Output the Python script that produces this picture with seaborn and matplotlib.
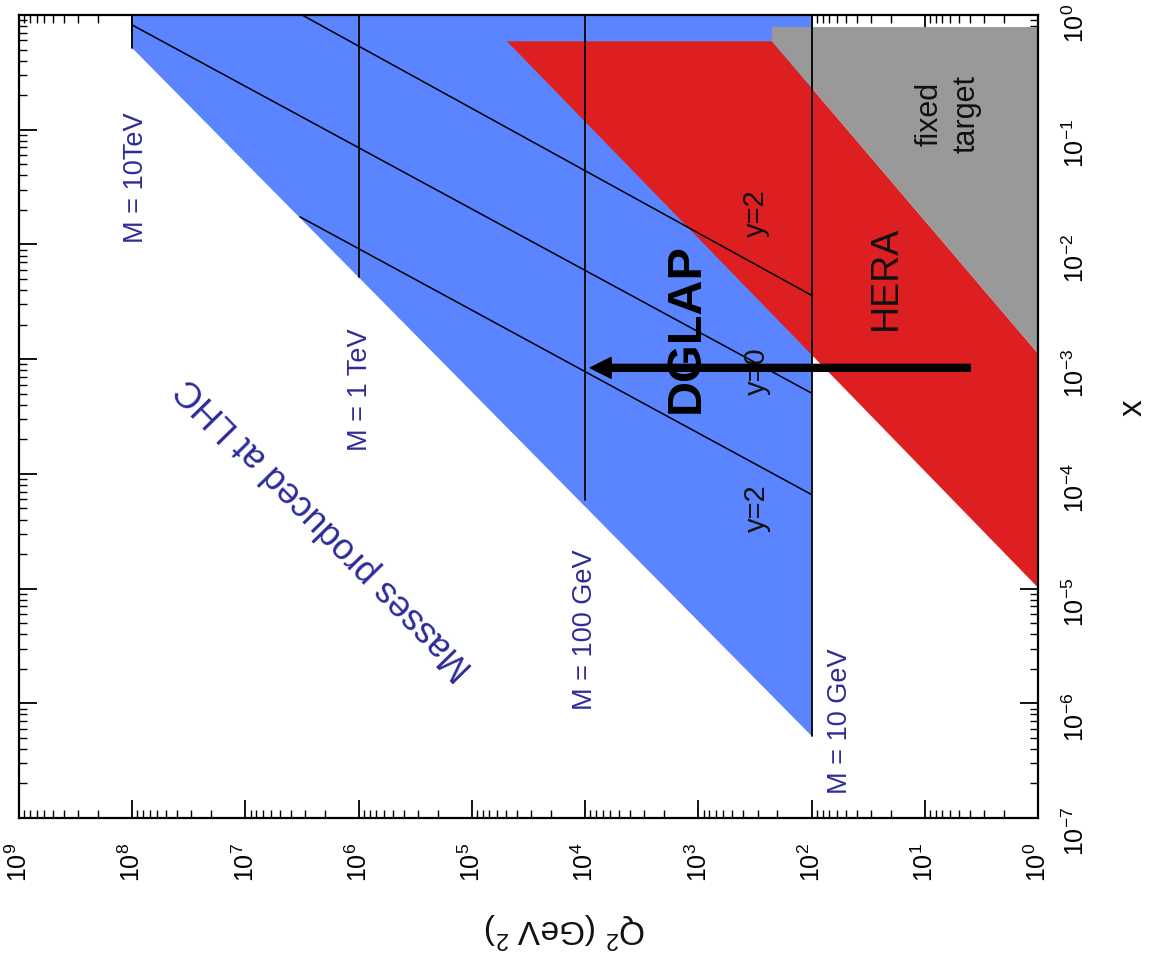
import numpy as np
import pandas as pd
import matplotlib
matplotlib.use("Agg")
import matplotlib.pyplot as plt
from matplotlib import font_manager as fm
from matplotlib.ticker import FixedLocator, FuncFormatter, NullFormatter
import seaborn as sns

# ---------------- data ----------------
# LHC region (Q^2 in GeV^2, x)
lhc_Q2 = [1e8, 1e8, 1e2, 1e2]
lhc_x = [1.0, 0.515, 5.2e-7, 1.0]
# HERA region
hera_Q2 = [4.9e4, 2.24e2, 1.0, 1.0]
hera_x = [0.59, 0.59, 1.12e-3, 1.02e-5]
# fixed target region
fixed_Q2 = [2.24e2, 1.0, 1.0, 2.24e2]
fixed_x = [0.785, 0.785, 1.12e-3, 0.59]
# constant mass lines
mass_labels = ["M = 10TeV", "M = 1 TeV", "M = 100 GeV", "M = 10 GeV"]
mass_Q2 = [1e8, 1e6, 1e4, 1e2]
mass_xmin = [0.515, 5.2e-3, 5.9e-5, 5.2e-7]
mass_xmax = [1.0, 1.0, 1.0, 1.0]
# rapidity lines
rap_labels = ["y=2", "y=0", "y=2"]
rap_Q2_start = [3.16e6, 1e8, 3.3e6]
rap_x_start = [1.0, 0.818, 0.0174]
rap_Q2_end = [1e2, 1e2, 1e2]
rap_x_end = [3.6e-3, 5.06e-4, 6.6e-5]
# DGLAP arrow (tail -> head)
dglap_Q2 = [3.97, 9.0e3]
dglap_x = [8.4e-4, 8.4e-4]
# axis tick decades
q2_decades = [0, 1, 2, 3, 4, 5, 6, 7, 8, 9]
x_decades = [-7, -6, -5, -4, -3, -2, -1, 0]

# ---------------- style ----------------
sns.set_theme(style="ticks")
plt.rcParams["font.family"] = ["Liberation Sans", "DejaVu Sans"]
plt.rcParams["mathtext.fontset"] = "custom"
plt.rcParams["mathtext.rm"] = "Liberation Sans"
plt.rcParams["mathtext.it"] = "Liberation Sans:italic"
plt.rcParams["mathtext.bf"] = "Liberation Sans:bold"

names = {f.name for f in fm.fontManager.ttflist}
if "Liberation Sans Narrow" in names:
    dglap_font, dglap_size = "Liberation Sans Narrow", 40
else:
    dglap_font, dglap_size = "Liberation Sans", 35

BLUE = "#5b84ff"
RED = "#de1f22"
GRAY = "#999999"
NAVY = "#2c2c9a"

fig = plt.figure(figsize=(11.5, 9.69), dpi=100)
ax = fig.add_axes([19 / 1150, 1 - 818 / 969, (1038 - 19) / 1150, (818 - 15) / 969])
ax.set_xscale("log")
ax.set_yscale("log")
ax.set_xlim(1e9, 1e0)
ax.set_ylim(1e-7, 1e0)
ax.set_facecolor("white")

ax.fill(lhc_Q2, lhc_x, color=BLUE, lw=0, zorder=1)
ax.fill(hera_Q2, hera_x, color=RED, lw=0, zorder=2)
ax.fill(fixed_Q2, fixed_x, color=GRAY, lw=0, zorder=3)

for q, lo, hi in zip(mass_Q2, mass_xmin, mass_xmax):
    sns.lineplot(x=[q, q], y=[lo, hi], estimator=None, sort=False,
                 color="black", lw=1.3, ax=ax, legend=False, zorder=4)
for q0, x0, q1, x1 in zip(rap_Q2_start, rap_x_start, rap_Q2_end, rap_x_end):
    sns.lineplot(x=[q0, q1], y=[x0, x1], estimator=None, sort=False,
                 color="black", lw=1.1, ax=ax, legend=False, zorder=4)

# ---------------- texts ----------------
mass_pos = [(9.25e7, 0.0379), (9.7e5, 5.38e-4), (1.0e4, 4.36e-6), (55.8, 7.0e-7)]
for lab, (q, xv) in zip(mass_labels, mass_pos):
    ax.text(q, xv, lab, rotation=90, rotation_mode="anchor", ha="center",
            va="center", color=NAVY, fontsize=19.5, zorder=6)

rap_pos = [(309, 0.0188), (302, 7.87e-4), (302, 5.03e-5)]
for lab, (q, xv) in zip(rap_labels, rap_pos):
    ax.text(q, xv, lab, rotation=90, rotation_mode="anchor", ha="center",
            va="center", color="#111111", fontsize=21, zorder=6)

ax.text(21.9, 5.09e-3, "HERA", rotation=90, rotation_mode="anchor",
        ha="center", va="center", color="#111111", fontsize=27, zorder=6)
ax.text(6.2, 0.137, "fixed\ntarget", rotation=90, rotation_mode="anchor",
        ha="center", va="center", multialignment="center", linespacing=1.3,
        color="#111111", fontsize=22, zorder=6)
ax.text(1.98e6, 3.37e-5, "Masses produced at LHC", rotation=134.4,
        rotation_mode="anchor", ha="center", va="center", color=NAVY,
        fontsize=26, zorder=6)

ax.annotate("", xy=(dglap_Q2[1], dglap_x[1]), xytext=(dglap_Q2[0], dglap_x[0]),
            arrowprops=dict(facecolor="black", edgecolor="black", width=5,
                            headwidth=15, headlength=15, shrink=0),
            zorder=7)
ax.text(1283, 1.87e-3, "DGLAP", rotation=90, rotation_mode="anchor",
        ha="center", va="center", color="black", fontsize=dglap_size,
        fontweight="bold", family=[dglap_font, "DejaVu Sans"], zorder=8)

# ---------------- axes ----------------
fmt = FuncFormatter(lambda v, p: r"$10^{%d}$" % int(round(np.log10(v))))
subs = np.arange(2, 10)
q2_major = [10.0 ** d for d in q2_decades]
q2_minor = [s * 10.0 ** d for d in q2_decades[:-1] for s in subs]
x_major = [10.0 ** d for d in x_decades]
x_minor = [s * 10.0 ** d for d in x_decades[:-1] for s in subs]
ax.xaxis.set_major_locator(FixedLocator(q2_major))
ax.xaxis.set_minor_locator(FixedLocator(q2_minor))
ax.yaxis.set_major_locator(FixedLocator(x_major))
ax.yaxis.set_minor_locator(FixedLocator(x_minor))
for axis in (ax.xaxis, ax.yaxis):
    axis.set_major_formatter(fmt)
    axis.set_minor_formatter(NullFormatter())
    axis.get_offset_text().set_visible(False)

ax.tick_params(which="both", direction="in", top=True, bottom=True, left=True,
               right=True, labelbottom=True, labelleft=False, labelright=True,
               labeltop=False, colors="black")
ax.tick_params(which="major", length=13, width=1.3, labelsize=18, pad=18)
ax.tick_params(which="minor", length=6, width=1.0)
ax.tick_params(axis="x", labelrotation=90)
ax.tick_params(axis="y", labelrotation=90)
ax.set_xlabel("")
ax.set_ylabel("")
for s in ax.spines.values():
    s.set_visible(True)
    s.set_linewidth(1.6)
    s.set_color("black")
    s.set_zorder(10)

fig.text(1133 / 1150, 1 - 408 / 969, "x", rotation=90, ha="center", va="center",
         fontsize=24, color="#111111")
fig.text(565 / 1150, 1 - 930 / 969, r"Q$^2$ (GeV $^2$)", rotation=180,
         ha="center", va="center", fontsize=24, color="#111111")

fig.savefig("out.png", dpi=100, facecolor="white")
